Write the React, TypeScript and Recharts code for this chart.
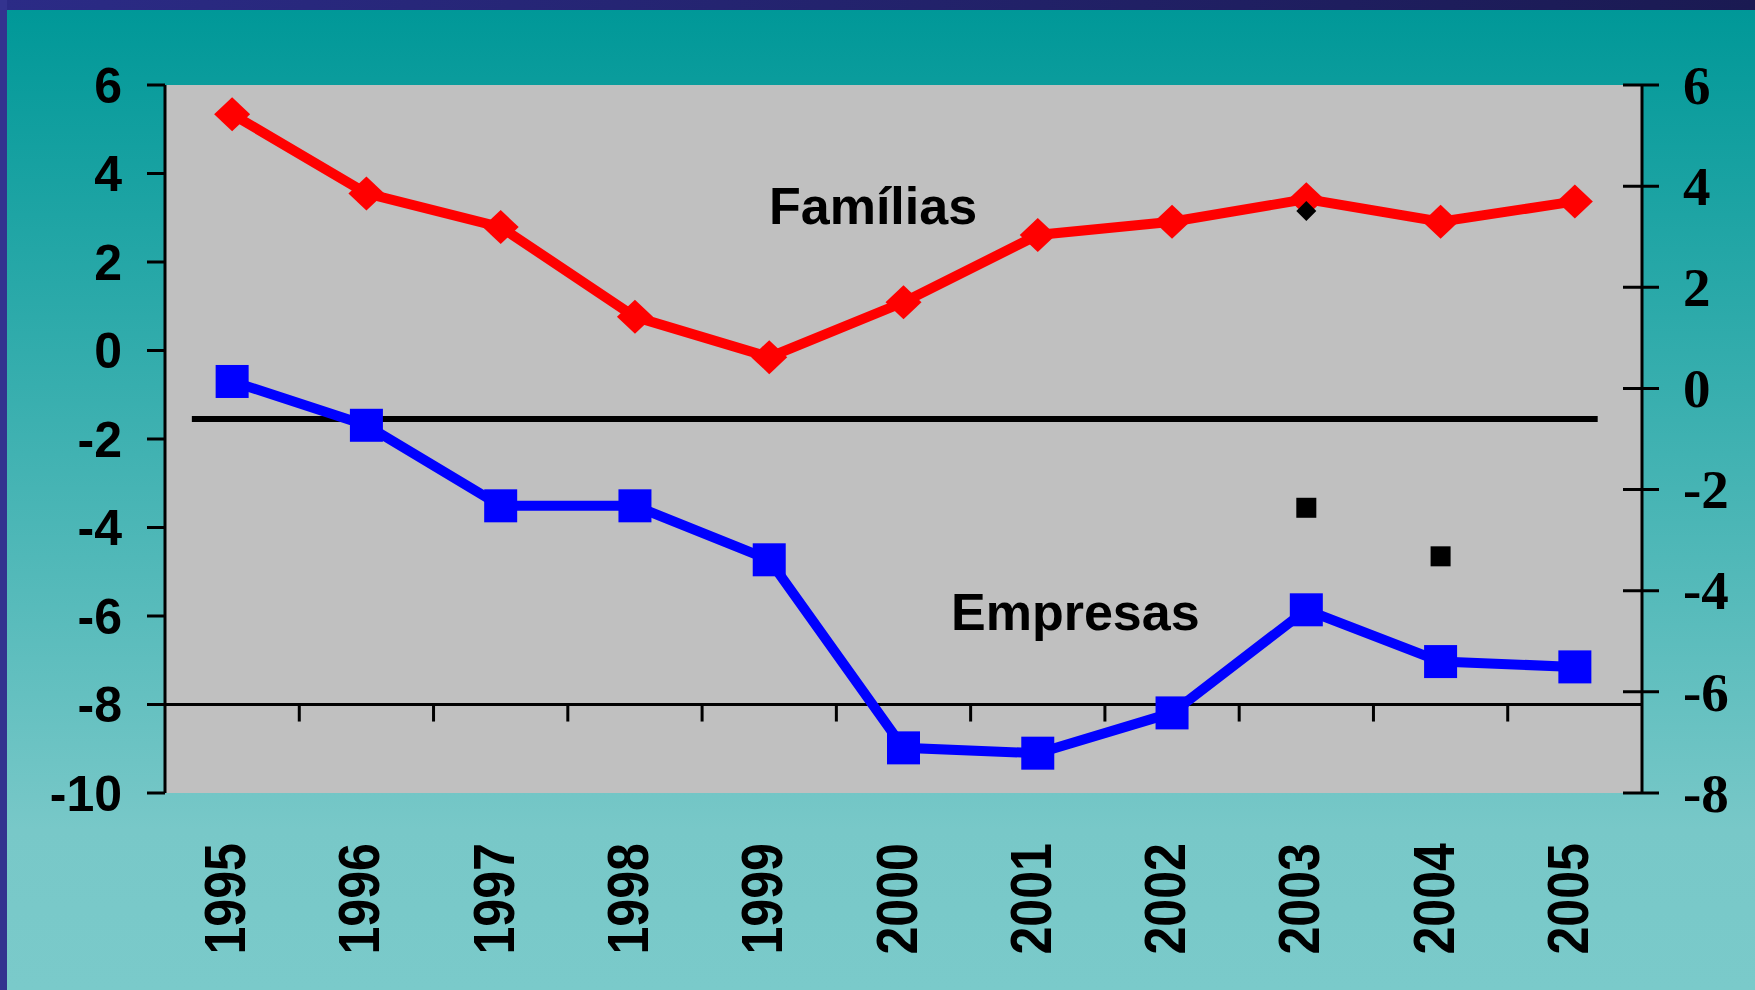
import React from "react";
import {
  LineChart,
  Line,
  XAxis,
  YAxis,
  CartesianGrid,
  ReferenceLine,
} from "recharts";

const anos = [1995, 1996, 1997, 1998, 1999, 2000, 2001, 2002, 2003, 2004, 2005];
const familias = [5.34, 3.55, 2.79, 0.76, -0.15, 1.09, 2.61, 2.91, 3.42, 2.91, 3.37];
const empresas = [-0.7, -1.69, -3.51, -3.51, -4.73, -8.98, -9.1, -8.19, -5.86, -7.03, -7.15];
// marcas pretas lidas no eixo da direita
const marcaLosango = [null, null, null, null, null, null, null, null, 3.51, null, null];
const marcaQuadrado = [null, null, null, null, null, null, null, null, -2.36, -3.32, null];

const ticksEsquerda = [-10, -8, -6, -4, -2, 0, 2, 4, 6];
const ticksDireita = [-8, -6, -4, -2, 0, 2, 4, 6];
const linhaHorizontal = -1.55;
const cruzamentoEixoX = -8;

const data = anos.map((ano, i) => ({
  ano,
  familias: familias[i],
  empresas: empresas[i],
  losango: marcaLosango[i],
  quadrado: marcaQuadrado[i],
}));

const divisoes = anos.slice(1).map((a) => a - 0.5);

const sans = "'Liberation Sans', Arial, sans-serif";
const serif = "'Liberation Serif', 'Times New Roman', serif";

function diamond(fill: string, hw: number, hh: number) {
  return (props: any) => {
    const { cx, cy, index } = props;
    if (cx == null || cy == null || props.value == null) return <g key={`d-${fill}-${index}`} />;
    return (
      <polygon
        key={`d-${fill}-${index}`}
        points={`${cx},${cy - hh} ${cx + hw},${cy} ${cx},${cy + hh} ${cx - hw},${cy}`}
        fill={fill}
      />
    );
  };
}

function square(fill: string, s: number) {
  return (props: any) => {
    const { cx, cy, index } = props;
    if (cx == null || cy == null || props.value == null) return <g key={`s-${fill}-${index}`} />;
    return <rect key={`s-${fill}-${index}`} x={cx - s / 2} y={cy - s / 2} width={s} height={s} fill={fill} />;
  };
}

const YearTick = (props: any) => {
  const { x, y, payload } = props;
  return (
    <g transform={`translate(${x + 13},${y + 50})`}>
      <text
        transform="rotate(-90) scale(0.88 1)"
        textAnchor="end"
        fontFamily={sans}
        fontWeight="bold"
        fontSize={57}
        fill="#000"
      >
        {payload.value}
      </text>
    </g>
  );
};

const RightTick = (props: any) => {
  const { x, y, payload } = props;
  return (
    <g>
      <line x1={x - 19} x2={x + 17} y1={y} y2={y} stroke="#000" strokeWidth={3} />
      <text x={x + 41} y={y} dy="0.34em" fontFamily={serif} fontWeight="bold" fontSize={55} fill="#000">
        {payload.value}
      </text>
    </g>
  );
};

export default function App() {
  return (
    <div
      style={{
        position: "fixed",
        left: 0,
        top: 0,
        width: 1755,
        height: 990,
        background: "linear-gradient(to bottom, #009898 10px, #78C8C8 830px, #7ACACA 990px)",
        overflow: "hidden",
      }}
    >
      <div
        style={{
          position: "absolute",
          left: 0,
          top: 0,
          width: 1755,
          height: 10,
          background: "linear-gradient(to right, #2B2B86, #1A1A52)",
        }}
      />
      <div style={{ position: "absolute", left: 0, top: 0, width: 7, height: 990, background: "#33338F" }} />
      <div style={{ position: "absolute", left: 0, top: 0 }}>
        <LineChart width={1755} height={990} data={data} margin={{ top: 85, right: 0, left: 0, bottom: 0 }}>
          <CartesianGrid yAxisId="left" horizontal={false} vertical={false} fill="#C0C0C0" />
          <XAxis
            dataKey="ano"
            type="number"
            domain={[1994.5, 2005.5]}
            ticks={anos}
            interval={0}
            height={197}
            axisLine={false}
            tickLine={false}
            tickSize={0}
            tickMargin={0}
            tick={<YearTick />}
          />
          <YAxis
            yAxisId="left"
            domain={[-10, 6]}
            ticks={ticksEsquerda}
            interval={0}
            width={165}
            axisLine={{ stroke: "#000", strokeWidth: 3 }}
            tickLine={{ stroke: "#000", strokeWidth: 3 }}
            tickSize={18}
            tickMargin={25}
            tick={{ fill: "#000", fontSize: 50, fontWeight: "bold", fontFamily: sans }}
          />
          <YAxis
            yAxisId="right"
            orientation="right"
            type="number"
            domain={[-8, 6]}
            ticks={ticksDireita}
            interval={0}
            width={113}
            axisLine={{ stroke: "#000", strokeWidth: 3 }}
            tickLine={false}
            tickSize={0}
            tickMargin={0}
            tick={RightTick}
          />
          <ReferenceLine yAxisId="left" y={cruzamentoEixoX} stroke="#000" strokeWidth={3} />
          {divisoes.map((d) => (
            <ReferenceLine
              key={d}
              yAxisId="left"
              segment={[
                { x: d, y: cruzamentoEixoX },
                { x: d, y: cruzamentoEixoX - 0.385 },
              ]}
              stroke="#000"
              strokeWidth={3}
            />
          ))}
          <ReferenceLine
            yAxisId="left"
            segment={[
              { x: 1994.7, y: linhaHorizontal },
              { x: 2005.17, y: linhaHorizontal },
            ]}
            stroke="#000"
            strokeWidth={6}
          />
          <Line
            yAxisId="left"
            dataKey="empresas"
            stroke="#0000FF"
            strokeWidth={10}
            dot={square("#0000FF", 33)}
            activeDot={false}
            isAnimationActive={false}
          />
          <Line
            yAxisId="left"
            dataKey="familias"
            stroke="#FF0000"
            strokeWidth={10}
            dot={diamond("#FF0000", 18, 17)}
            activeDot={false}
            isAnimationActive={false}
          />
          <Line
            yAxisId="right"
            dataKey="losango"
            stroke="none"
            dot={diamond("#000", 10, 10)}
            activeDot={false}
            isAnimationActive={false}
          />
          <Line
            yAxisId="right"
            dataKey="quadrado"
            stroke="none"
            dot={square("#000", 20)}
            activeDot={false}
            isAnimationActive={false}
          />
        </LineChart>
      </div>
      <svg
        width={1755}
        height={990}
        style={{ position: "absolute", left: 0, top: 0, pointerEvents: "none" }}
      >
        <text x={769} y={224} fontFamily={sans} fontWeight="bold" fontSize={52} fill="#000">
          Famílias
        </text>
        <text x={951} y={630} fontFamily={sans} fontWeight="bold" fontSize={52} fill="#000">
          Empresas
        </text>
      </svg>
    </div>
  );
}
